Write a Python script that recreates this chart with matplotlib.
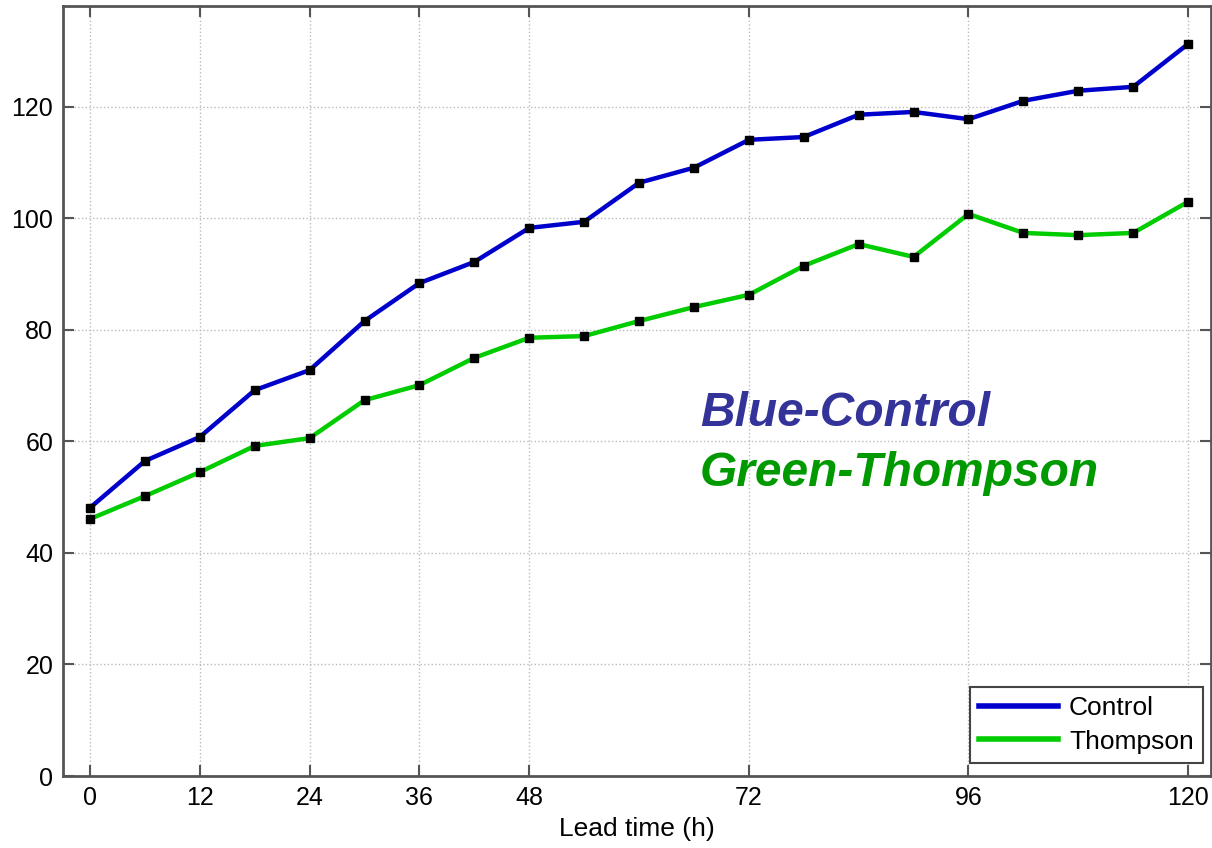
import matplotlib
matplotlib.use("Agg")
import matplotlib.pyplot as plt
import numpy as np

plt.rcParams['font.family'] = ['Liberation Sans', 'DejaVu Sans']

# Lead time every 6 h
lead_time = [0, 6, 12, 18, 24, 30, 36, 42, 48, 54, 60, 66, 72, 78, 84, 90, 96, 102, 108, 114, 120]
control = [48.1, 56.5, 60.8, 69.2, 72.8, 81.6, 88.4, 92.2, 98.3, 99.4, 106.4, 109.1,
           114.1, 114.6, 118.6, 119.1, 117.8, 121.1, 122.9, 123.6, 131.3]
thompson = [46.1, 50.2, 54.5, 59.2, 60.6, 67.4, 70.1, 75.0, 78.6, 78.9, 81.6, 84.1,
            86.3, 91.5, 95.4, 93.1, 100.8, 97.4, 97.0, 97.4, 103.0]
xticks = [0, 12, 24, 36, 48, 72, 96, 120]
yticks = [0, 20, 40, 60, 80, 100, 120]

fig = plt.figure(figsize=(12.12, 8.48), dpi=100)
ax = fig.add_axes([63 / 1212, 72 / 848, 1148 / 1212, 770 / 848])

ax.plot(lead_time, control, color='#0000cc', lw=3.2, label='Control',
        marker='s', ms=6, mfc='black', mec='black', zorder=3)
ax.plot(lead_time, thompson, color='#00cc00', lw=3.2, label='Thompson',
        marker='s', ms=6, mfc='black', mec='black', zorder=3)

ax.set_xlim(-2.95, 122.5)
ax.set_ylim(0, 138.1)
ax.set_xticks(xticks)
ax.set_yticks(yticks)
ax.tick_params(direction='in', length=8, width=1.5, color='#555555',
               labelsize=18, top=True, right=True, pad=7)
ax.grid(True, linestyle=':', color='#bbbbbb', lw=1)
for s in ax.spines.values():
    s.set_color('#555555')
    s.set_linewidth(2)
ax.set_xlabel('Lead time (h)', fontsize=19, labelpad=5)

leg = ax.legend(loc='lower right', fontsize=19, handlelength=3.0, handletextpad=0.4,
                fancybox=False, framealpha=1, edgecolor='#444444', borderpad=0.35,
                labelspacing=0.35, borderaxespad=0,
                bbox_to_anchor=(0.993, 0.017))
leg.get_frame().set_linewidth(1.5)
for line in leg.get_lines():
    line.set_marker('')
    line.set_linewidth(4)

ax.text(0.555, 0.471, 'Blue-Control', transform=ax.transAxes, fontsize=34.5,
        fontweight='bold', fontstyle='italic', color='#333399', va='center')
ax.text(0.555, 0.393, 'Green-Thompson', transform=ax.transAxes, fontsize=34.5,
        fontweight='bold', fontstyle='italic', color='#009900', va='center')

fig.savefig('out.png', dpi=100)
